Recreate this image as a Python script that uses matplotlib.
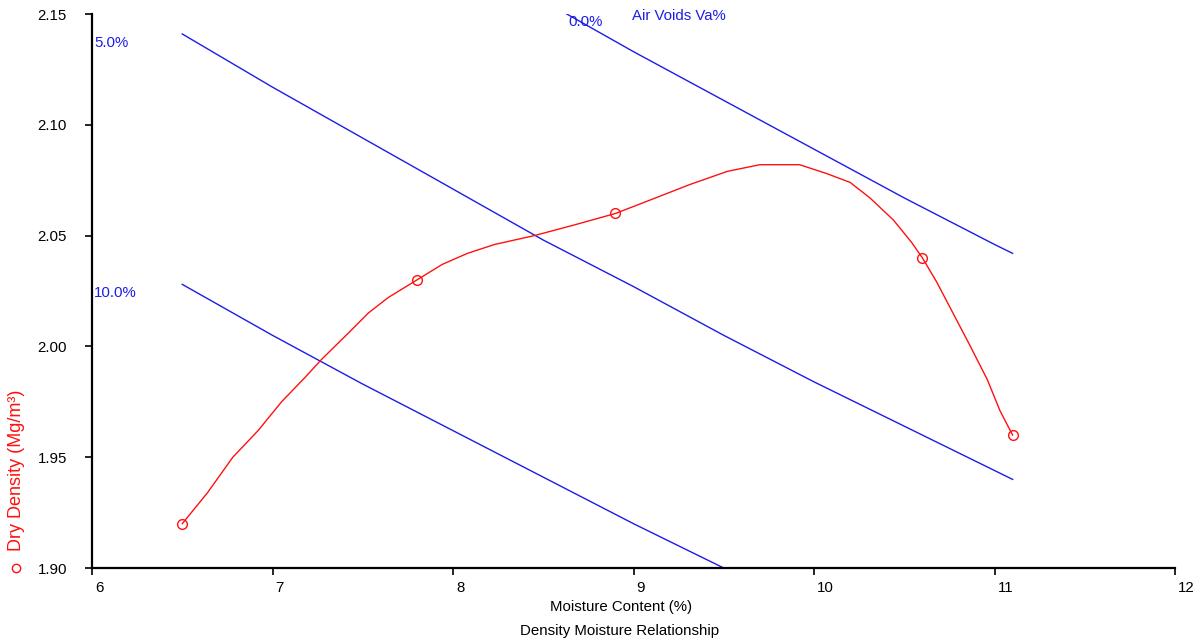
import matplotlib.pyplot as plt
import matplotlib.transforms as mtransforms

plt.rcParams["font.family"] = ["Liberation Sans", "DejaVu Sans"]

# measured compaction points
moisture = [6.5, 7.8, 8.9, 10.6, 11.1]
dry_density = [1.92, 2.03, 2.06, 2.04, 1.96]

# fitted curve
curve_x = [6.50, 6.64, 6.78, 6.92, 7.05, 7.18, 7.27, 7.42, 7.53, 7.64, 7.80, 7.94,
           8.08, 8.23, 8.45, 8.68, 8.90, 9.09, 9.31, 9.52, 9.70, 9.92, 10.07, 10.20,
           10.31, 10.44, 10.54, 10.60, 10.68, 10.77, 10.86, 10.96, 11.03, 11.10]
curve_y = [1.920, 1.934, 1.950, 1.962, 1.975, 1.986, 1.994, 2.006, 2.015, 2.022, 2.030,
           2.037, 2.042, 2.046, 2.050, 2.055, 2.060, 2.066, 2.073, 2.079, 2.082, 2.082,
           2.078, 2.074, 2.067, 2.057, 2.047, 2.040, 2.029, 2.015, 2.001, 1.985, 1.971,
           1.960]

# air voids lines
voids_x = [6.5, 7.0, 7.5, 8.0, 8.5, 9.0, 9.5, 10.0, 10.5, 11.0, 11.1]
voids_0 = [2.253, 2.228, 2.204, 2.180, 2.156, 2.133, 2.111, 2.089, 2.067, 2.046, 2.042]
voids_5 = [2.141, 2.117, 2.094, 2.071, 2.048, 2.027, 2.005, 1.984, 1.964, 1.944, 1.940]
voids_10 = [2.028, 2.005, 1.983, 1.962, 1.941, 1.920, 1.900, 1.880, 1.860, 1.842, 1.838]

x_ticks = [6, 7, 8, 9, 10, 11, 12]
y_ticks = [1.90, 1.95, 2.00, 2.05, 2.10, 2.15]

RED = "#ff1010"
BLUE = "#1c1ce8"

fig = plt.figure(figsize=(12.01, 6.43), dpi=100)
ax = fig.add_axes([0.0766, 0.1166, 0.9018, 0.8616])

for series in (voids_0, voids_5, voids_10):
    ax.plot(voids_x, series, color=BLUE, linewidth=1.0)

ax.plot(curve_x, curve_y, color=RED, linewidth=1.0)
ax.plot(moisture, dry_density, linestyle="none", marker="o", markersize=7,
        markerfacecolor="none", markeredgecolor=RED, markeredgewidth=1.0)

ax.text(6.011, 2.1369, "5.0%", color=BLUE, fontsize=10.8, va="center", ha="left")
ax.text(6.011, 2.0241, "10.0%", color=BLUE, fontsize=10.8, va="center", ha="left")
ax.text(8.637, 2.1464, "0.0%", color=BLUE, fontsize=10.8, va="center", ha="left")
ax.text(8.99, 2.1491, "Air Voids Va%", color=BLUE, fontsize=10.8, va="center", ha="left")

ax.set_xlim(6, 12)
ax.set_ylim(1.90, 2.15)
ax.set_xticks(x_ticks)
ax.set_yticks(y_ticks)
ax.set_xticklabels([str(t) for t in x_ticks])
ax.set_yticklabels([f"{t:.2f}" for t in y_ticks])

for side in ("top", "right"):
    ax.spines[side].set_visible(False)
for side in ("left", "bottom"):
    ax.spines[side].set_linewidth(1.6)
    ax.spines[side].set_color("black")

ax.tick_params(axis="both", direction="out", length=5, width=1.2, labelsize=10.8)
ax.tick_params(axis="y", pad=13)
ax.tick_params(axis="x", pad=4)

shift = mtransforms.ScaledTranslation(3 / 100, 0, fig.dpi_scale_trans)
for label in ax.get_xticklabels():
    label.set_ha("left")
    label.set_transform(label.get_transform() + shift)

fig.text(621 / 1201, 1 - 607 / 643, "Moisture Content (%)", ha="center", va="center",
         fontsize=10.8)
fig.text(620 / 1201, 1 - 631 / 643, "Density Moisture Relationship", ha="center",
         va="center", fontsize=10.8)

# y label with a legend marker below it
fig.text(17 / 1201, 1 - 470 / 643, "Dry Density (Mg/m\u00b3)", rotation=90, color=RED,
         ha="center", va="center", fontsize=13)
fig.lines.append(plt.Line2D([16 / 1201], [1 - 568 / 643], transform=fig.transFigure,
                            marker="o", markersize=6, markerfacecolor="none",
                            markeredgecolor=RED, markeredgewidth=1.0, linestyle="none"))

fig.savefig("out.png", dpi=100)
